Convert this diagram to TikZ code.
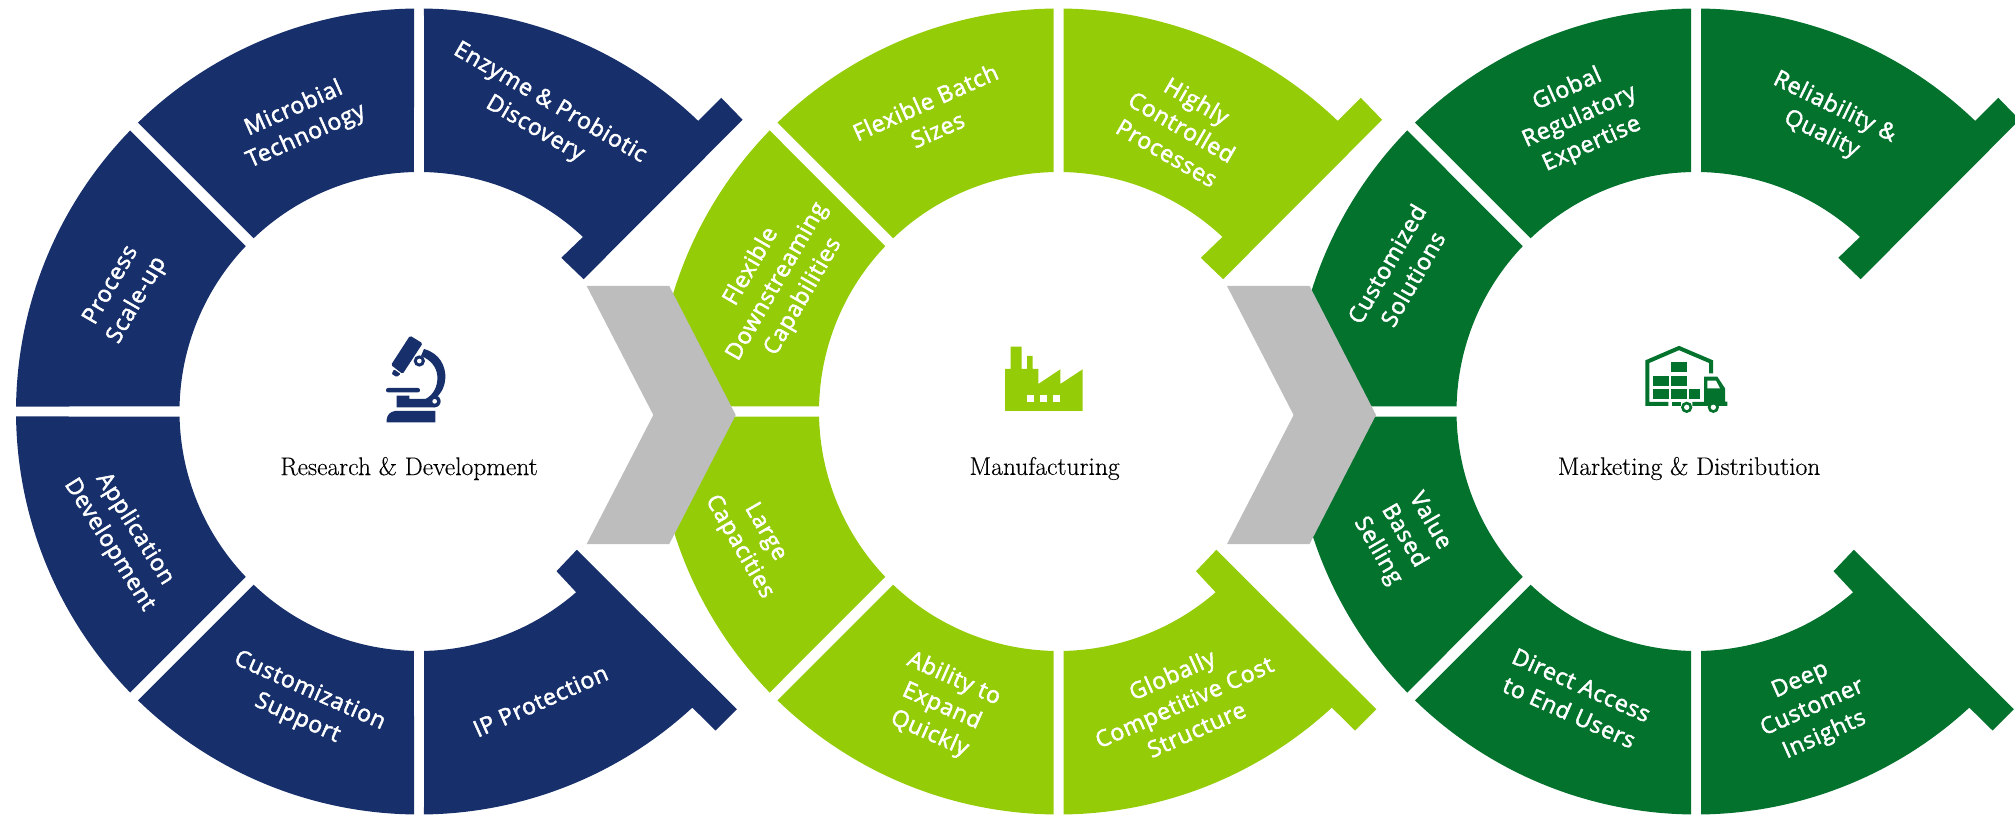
\documentclass[tikz,border=0pt]{standalone}
\usepackage{fontspec}
\newfontfamily\lblfont[FakeBold=2,LetterSpace=3]{Open Sans}
\newfontfamily\hubfont[FakeBold=0.25]{Latin Modern Roman}
\definecolor{rdblue}{HTML}{17306B}
\definecolor{mfglime}{HTML}{95CC08}
\definecolor{mktgreen}{HTML}{02722D}
\definecolor{chevgray}{HTML}{BDBDBD}
\tikzset{
  lab/.style={text=white,font=\lblfont\fontsize{23}{30}\selectfont,align=center,inner sep=0pt},
  hub/.style={text=black,font=\hubfont\fontsize{25.5}{30}\selectfont,inner sep=0pt},
  chev/.style={fill=chevgray,draw=none}
}
\newcommand{\ringparts}[2]{%
\begin{scope}[shift={(#1,403.5)}]
 \fill[#2] (179.29:403pt) arc[start angle=179.29,end angle=135.78,radius=403pt] -- (136.32:239.5pt) arc[start angle=136.32,end angle=178.8,radius=239.5pt] -- cycle;
 \fill[#2] (134.22:403pt) arc[start angle=134.22,end angle=90.71,radius=403pt] -- (91.2:239.5pt) arc[start angle=91.2,end angle=133.68,radius=239.5pt] -- cycle;
 \fill[#2] (89.29:403pt) arc[start angle=89.29,end angle=46.15,radius=403pt] -- (302.3,313.7) -- (323.6,291.7) -- (164.6,132.3) -- (142.3,153.7) -- (46.8:239.5pt) arc[start angle=46.8,end angle=88.8,radius=239.5pt] -- cycle;
 \fill[#2] (180.71:403pt) arc[start angle=180.71,end angle=224.22,radius=403pt] -- (223.68:239.5pt) arc[start angle=223.68,end angle=181.2,radius=239.5pt] -- cycle;
 \fill[#2] (225.78:403pt) arc[start angle=225.78,end angle=269.29,radius=403pt] -- (268.8:239.5pt) arc[start angle=268.8,end angle=226.32,radius=239.5pt] -- cycle;
 \fill[#2] (270.71:403pt) arc[start angle=270.71,end angle=312.7,radius=403pt] -- (296.5,-319) -- (317.8,-297.7) -- (157.8,-138.3) -- (137.5,-159.7) -- (311:239.5pt) arc[start angle=311,end angle=271.2,radius=239.5pt] -- cycle;
\end{scope}}
\begin{document}
\begin{tikzpicture}[x=1pt,y=1pt]
\useasboundingbox (0,0) rectangle (2015,815);
\clip (0,0) rectangle (2015,815);
\ringparts{419}{rdblue}
\ringparts{1058.5}{mfglime}
\ringparts{1696}{mktgreen}
\begin{scope}[shift={(0,815)},y=-1pt]
 \fill[chev] (586.7,286) -- (669.3,286) -- (735.7,415) -- (669.3,544) -- (586.7,544) -- (653.3,415) -- cycle;
 \fill[chev] (1227,286) -- (1309.6,286) -- (1376,415) -- (1309.6,544) -- (1227,544) -- (1293.6,415) -- cycle;

 \node[lab,rotate=60] (a1) at (124.5,293) {Process\\Scale-up};
 \node[lab,rotate=24] (a2) at (300,122.7) {Microbial\\Technology};
 \node[lab,rotate=-30] (a3) at (542.4,116) {Enzyme \& Probiotic\\Discovery};
 \node[lab,rotate=-58] (a4) at (122,537) {Application\\Development};
 \node[lab,rotate=-24] (a5) at (303.4,705) {Customization\\Support};
 \node[lab,rotate=24] (a6) at (540.5,700.7) {IP Protection};

 \node[lab,rotate=60] (b1) at (777.3,281.7) {Flexible\\Downstreaming\\Capabilities};
 \node[lab,rotate=24] (b2) at (931.4,115.7) {Flexible Batch\\Sizes};
 \node[lab,rotate=-30] (b3) at (1182,126.7) {Highly\\Controlled\\Processes};
 \node[lab,rotate=-60] (b4) at (752,539.7) {Large\\Capacities};
 \node[lab,rotate=-24] (b5) at (941.6,706.7) {Ability to\\Expand\\Quickly};
 \node[lab,rotate=24] (b6) at (1184,701.7) {Globally\\Competitive Cost\\Structure};

 \node[lab,rotate=60] (c1) at (1399.5,271.3) {Customized\\Solutions};
 \node[lab,rotate=24] (c2) at (1579.6,117) {Global\\Regulatory\\Expertise};
 \node[lab,rotate=-26] (c3) at (1828,121) {Reliability \&\\Quality};
 \node[lab,rotate=-60] (c4) at (1403.8,536) {Value\\Based\\Selling};
 \node[lab,rotate=-24] (c5) at (1575.4,698.7) {Direct Access\\to End Users};
 \node[lab,rotate=24] (c6) at (1812.6,708.3) {Deep\\Customer\\Insights};

 \node[hub] (h1) at (409,468.5) {Research \& Development};
 \node[hub] (h2) at (1044.6,468.5) {Manufacturing};
 \node[hub] (h3) at (1689,468.5) {Marketing \& Distribution};
\end{scope}

% microscope
\begin{scope}[shift={(340,515)},x=0.3333pt,y=-0.3333pt]
 \fill[rdblue,rounded corners=1.5pt] (210,107) -- (248,130) -- (188,222) -- (153,195) -- cycle;
 \fill[rdblue,rounded corners=1pt] (162,208) -- (182,222) -- (170,231) -- (155,222) -- cycle;
 \fill[rdblue] (252,147) .. controls (300,160) and (318,200) .. (316,235) .. controls (314,265) and (300,285) .. (282,298) -- (255,298) .. controls (280,285) and (294,260) .. (292,228) .. controls (290,200) and (270,178) .. (243,168) -- cycle;
 \fill[rdblue] (238,183) circle[radius=17];
 \fill[white] (238,183) circle[radius=7];
 \fill[rdblue,rounded corners=2pt] (138,264) rectangle (240,277);
 \fill[rdblue] (170,287) -- (208,287) -- (208,297) -- (284,297) -- (284,322) -- (170,322) -- cycle;
 \fill[rdblue] (284,304) circle[radius=18];
 \fill[white] (284,304) circle[radius=7];
 \fill[rdblue] (140,367) -- (140,358) .. controls (142,345) and (150,335) .. (165,333) -- (286,333) -- (286,367) -- cycle;
\end{scope}
% factory
\begin{scope}[shift={(960,505)},x=0.3333pt,y=-0.3333pt]
 \fill[mfglime] (135,177) -- (152,177) -- (152,110) -- (185,110) -- (185,177) -- (201,177) -- (201,138) -- (218,138) -- (218,177) -- (235,177) -- (235,222) -- (301,178) -- (301,222) -- (368,178) -- (368,303) -- (135,303) -- cycle;
 \fill[white] (201,254) rectangle (222,276);
 \fill[white] (240,254) rectangle (262,276);
 \fill[white] (279,254) rectangle (301,276);
\end{scope}
% warehouse truck
\begin{scope}[shift={(1610,495)},x=0.3333pt,y=-0.3333pt]
 \draw[mktgreen,line width=4pt,miter limit=4] (175,252) -- (112,252) -- (112,125) -- (207,84) -- (303,125) -- (303,160);
 \fill[mktgreen] (187,246) rectangle (213,258);
 \fill[mktgreen] (183,126) rectangle (231,157);
 \fill[mktgreen] (129,168) rectangle (177,198);
 \fill[mktgreen] (183,168) rectangle (231,198);
 \fill[mktgreen] (129,207) rectangle (177,238);
 \fill[mktgreen] (183,207) rectangle (231,238);
 \fill[mktgreen] (237,207) rectangle (270,238);
 \fill[mktgreen] (247,258) -- (247,246) -- (282,246) -- (282,170) -- (322,170) -- (345,205) -- (345,245) -- (352,245) -- (352,258) -- cycle;
 \fill[white] (292,182) -- (318,182) -- (330,205) -- (292,205) -- cycle;
 \fill[mktgreen] (230,262) circle[radius=17];
 \fill[white] (230,262) circle[radius=8];
 \fill[mktgreen] (310,262) circle[radius=17];
 \fill[white] (310,262) circle[radius=8];
\end{scope}
\end{tikzpicture}
\end{document}
